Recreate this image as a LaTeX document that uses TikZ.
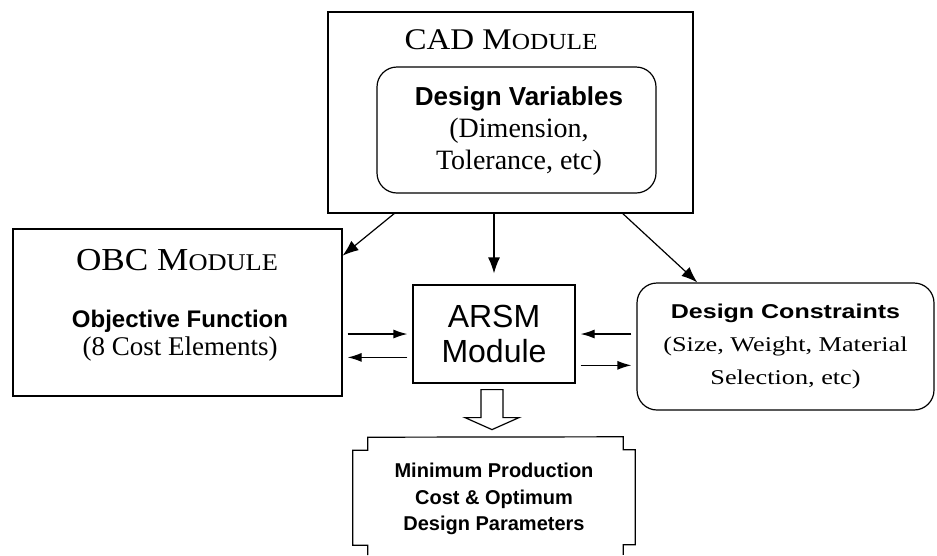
\documentclass[tikz,border=0pt]{standalone}
\usepackage{fontspec}
\setmainfont{Liberation Serif}
\setsansfont{Liberation Sans}
\newfontfamily\widesans[FakeStretch=1.25]{Liberation Sans}
\newfontfamily\wideserif[FakeStretch=1.25]{Liberation Serif}
\newfontfamily\titleserif[FakeStretch=1.1]{Liberation Serif}
\usetikzlibrary{arrows.meta}

\begin{document}
\begin{tikzpicture}[x=1pt,y=-1pt,
  box/.style={draw, line width=1.2pt, inner sep=0pt},
  flow/.style={draw, line width=1.2pt, -{Latex[length=16pt,width=12pt]}},
  sideflow/.style={draw, line width=1.2pt, -{Latex[length=14pt,width=9pt]}, shorten <=5pt, shorten >=5pt}]
\useasboundingbox (0,0) rectangle (937,555);

\node[box, minimum width=365, minimum height=201] (cad) at (510.5,112.5) {};
\node (cadname) at (501,40) {\titleserif{\fontsize{30}{30}\selectfont CAD M}{\fontsize{23}{23}\selectfont ODULE}};
\node[box, rounded corners=20pt, minimum width=279, minimum height=126] (dv) at (516.5,130) {};
\node[align=center, font=\fontsize{28}{32}\selectfont] (dvtext) at (519,131) {{\sffamily\bfseries\fontsize{26}{32}\selectfont Design Variables}\\(Dimension,\\Tolerance, etc)};

\node[box, minimum width=329, minimum height=167] (obc) at (177.5,312.5) {};
\node (obcname) at (177,260) {\titleserif{\fontsize{32}{32}\selectfont OBC M}{\fontsize{24}{24}\selectfont ODULE}};
\node[align=center, font=\fontsize{27}{28}\selectfont] (obctext) at (180,336) {{\sffamily\bfseries\fontsize{24}{28}\selectfont Objective Function}\\(8 Cost Elements)};

\node[box, minimum width=162, minimum height=98, align=center, font=\sffamily\fontsize{32}{35}\selectfont] (arsm) at (494,334) {ARSM\\Module};

\node[box, rounded corners=20pt, minimum width=297, minimum height=127, align=center, font=\wideserif\fontsize{21}{33}\selectfont] (dc) at (785.5,346.5) {{\widesans\bfseries\fontsize{20}{33}\selectfont Design Constraints}\\(Size, Weight, Material\\Selection, etc)};

\node[minimum width=282, minimum height=118] (result) at (494,496) {};
\node[align=center, font=\sffamily\bfseries\fontsize{20}{26.5}\selectfont] (resulttext) at (494,499) {Minimum Production\\Cost \& Optimum\\Design Parameters};

% CAD module feeds the three others
\path[flow] (cad.221) -- (obc.19);
\path[flow, shorten >=11pt] (cad.south -| arsm.north) -- (arsm.north);
\path[flow] (cad.-42.5) -- (dc.144);

\path[sideflow] (obc.east |- arsm.west) -- (arsm.west);
\path[sideflow] (arsm.196.5) -- (obc.east |- arsm.196.5);
\path[sideflow] (dc.west |- arsm.east) -- (arsm.east);
\path[sideflow] (arsm.-21) -- (dc.west |- arsm.-21);

% hollow arrow down to the result
\draw[line width=1.2pt] ([xshift=-13pt,yshift=-6pt]arsm.south) -- ++(0,28) -- ++(-16,0) -- ++(27,12) -- ++(27,-12) -- ++(-16,0) -- ++(0,-28) -- cycle;

\draw[line width=1.2pt] ([xshift=15pt]result.south west) -- ++(0,-10) -- ++(-15,0) -- ++(0,-95) -- ++(15,0) -- ++(0,-13)
  -- ([xshift=-12pt]result.north east) -- ++(0,13) -- ++(12,0) -- ++(0,95) -- ++(-12,0) -- ++(0,10);
\end{tikzpicture}
\end{document}
